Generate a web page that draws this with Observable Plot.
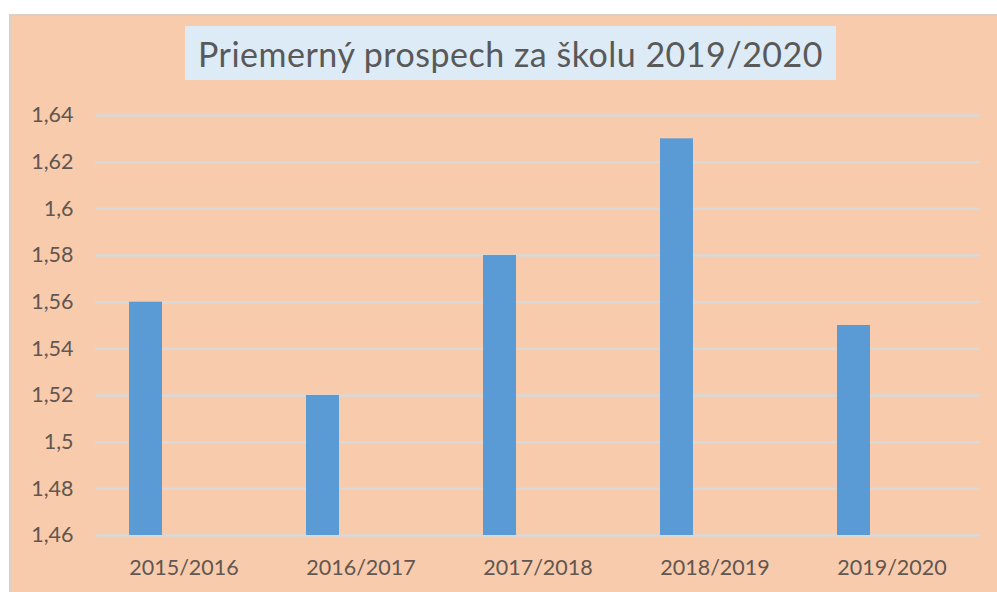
<!DOCTYPE html>
<html>
<head>
<meta charset="utf-8">
<script src="https://cdn.jsdelivr.net/npm/d3@7"></script>
<script src="https://cdn.jsdelivr.net/npm/@observablehq/plot@0.6"></script>
<style>
  html, body { margin: 0; padding: 0; background: #ffffff; width: 997px; height: 592px; overflow: hidden; }
  #frame { position: absolute; left: 9px; top: 14px; width: 988px; height: 578px; background: #F8CBAD;
           border-left: 2px solid #DCCFC6; border-top: 2px solid #DCCFC6; box-sizing: border-box; }
  #title { position: absolute; left: 185px; top: 26px; width: 651px; height: 54px; background: #DDEBF7;
           font-family: Lato, "Open Sans", sans-serif; font-size: 34px; letter-spacing: 0.5px; color: #595959;
           display: flex; align-items: center; justify-content: center; z-index: 2; white-space: nowrap; }
  #chart { position: absolute; left: 0; top: 0; z-index: 1; }
</style>
</head>
<body>
<div id="frame"></div>
<div id="title">Priemerný prospech za školu 2019/2020</div>
<div id="chart"></div>
<script>
const categories = ["2015/2016", "2016/2017", "2017/2018", "2018/2019", "2019/2020"];
const values = [1.56, 1.52, 1.58, 1.63, 1.55];
const yTicks = [1.46, 1.48, 1.5, 1.52, 1.54, 1.56, 1.58, 1.6, 1.62, 1.64];

const data = categories.map((c, i) => ({year: c, value: values[i]}));
const fmt = d => String(+d.toFixed(2)).replace(".", ",");

const chart = Plot.plot({
  width: 997,
  height: 592,
  marginLeft: 95,
  marginRight: 17,
  marginTop: 115,
  marginBottom: 57,
  style: {background: "transparent", fontFamily: "Lato, 'Open Sans', sans-serif", fontSize: "21.5px", color: "#625650"},
  x: {domain: categories, padding: 0, label: null, tickSize: 0, tickPadding: 24},
  y: {domain: [1.46, 1.64], ticks: yTicks, tickFormat: fmt, label: null, tickSize: 0, tickPadding: 22},
  marks: [
    Plot.gridY(yTicks, {stroke: "#D9D9D9", strokeWidth: 2.5, strokeOpacity: 1}),
    Plot.barY(data, {x: "year", y1: 1.46, y2: "value", fill: "#5B9BD5", insetLeft: 34, insetRight: 110})
  ]
});
document.getElementById("chart").appendChild(chart);
</script>
</body>
</html>
